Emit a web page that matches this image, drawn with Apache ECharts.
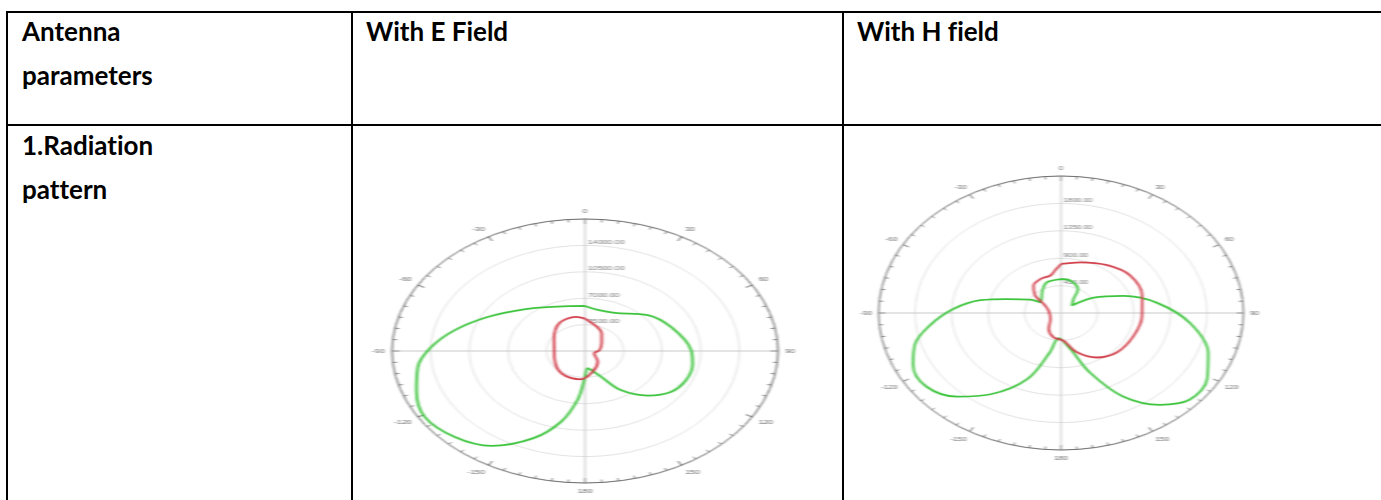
<!DOCTYPE html>
<html>
<head>
<meta charset="utf-8">
<script src="https://cdn.jsdelivr.net/npm/echarts@6/dist/echarts.min.js"></script>
<style>
  html, body { margin: 0; padding: 0; background: #fff; }
  body { width: 1381px; height: 500px; overflow: hidden; position: relative;
         font-family: Lato, "Open Sans", sans-serif; }
  .rule { position: absolute; background: #000; }
  .cell { position: absolute; font-weight: 700; font-size: 26px; line-height: 44px;
          color: #000; white-space: nowrap; font-variant-ligatures: none; }
  .plot { position: absolute; filter: blur(0.7px); }
</style>
</head>
<body>
  <!-- table frame -->
  <div class="rule" style="left:6px;top:11px;width:1375px;height:2px"></div>
  <div class="rule" style="left:6px;top:124px;width:1375px;height:2px"></div>
  <div class="rule" style="left:6px;top:11px;width:2px;height:489px"></div>
  <div class="rule" style="left:351px;top:11px;width:2px;height:489px"></div>
  <div class="rule" style="left:842px;top:11px;width:2px;height:489px"></div>

  <!-- table text -->
  <div class="cell" style="left:22px;top:9px">Antenna<br>parameters</div>
  <div class="cell" style="left:366px;top:9px">With E Field</div>
  <div class="cell" style="left:857px;top:9px">With H field</div>
  <div class="cell" style="left:22px;top:123px">1.Radiation<br>pattern</div>

  <!-- radiation pattern plots -->
  <div id="eplot" class="plot" style="left:420px;top:186px;width:330px;height:330px;transform-origin:165px 165px;transform:scaleX(1.462)"></div>
  <div id="hplot" class="plot" style="left:891px;top:143px;width:340px;height:340px;transform-origin:170px 170px;transform:scaleX(1.332)"></div>

<script>
// ---- E-field cut: angle (deg, clockwise from 0 at top) and field magnitude ----
const eGreenAngle = [0, 12, 28, 50, 68, 89, 100, 113, 125, 136, 148, 157, 168, 174, 181, 186, 193, 202, 214, 226, 239, 251, 262, 272, 283, 297, 315, 337, 360];
const eGreenR     = [5970, 5565, 5720, 7420, 8435, 9610, 9905, 9940, 9485, 8210, 6110, 3690, 2570, 2280, 3850, 6530, 9610, 12460, 15170, 16415, 16960, 16170, 15310, 13980, 12160, 9920, 7820, 6390, 5970];
const eRedAngle   = [0, 20, 33, 56, 85, 110, 141, 166, 186, 215, 250, 275, 300, 328, 350, 360];
const eRedR       = [4290, 3330, 2780, 1820, 1310, 890, 1820, 2840, 3780, 3675, 2940, 2800, 3240, 4375, 4585, 4290];
const eRadiusMax  = 17500;
const eRadiusStep = 3500;

// ---- H-field cut ----
const hGreenAngle = [0, 12, 28, 34, 48, 58, 70, 82, 96, 110, 121, 132, 141, 151, 160, 169, 184, 192, 201, 213, 223, 234, 245, 254, 263, 273, 282, 289, 300, 305, 328, 341, 360];
const hGreenR     = [558, 545, 443, 277, 182, 477, 819, 1197, 1602, 1931, 2102, 2131, 1940, 1562, 1040, 603, 416, 659, 1163, 1591, 1877, 2054, 2012, 1874, 1625, 1325, 1015, 704, 437, 308, 434, 533, 558];
const hRedAngle   = [0, 16, 36, 54, 74, 93, 113, 133, 149, 163, 176, 193, 210, 233, 284, 305, 312, 323, 336, 348, 355, 360];
const hRedR       = [806, 866, 970, 1051, 1040, 999, 970, 945, 853, 675, 457, 410, 304, 164, 158, 261, 428, 563, 614, 630, 720, 806];
const hRadiusMax  = 2250;
const hRadiusStep = 450;

// angle tick labels: 0..180 on the right, negative on the left
const angleLabel = v => (v === 360 ? '' : String(v > 180 ? v - 360 : v));

function pairs(angles, radii) {
  return angles.map((a, i) => [radii[i], a]);
}

function patternOption(radius, rMax, rStep, green, red) {
  const shared = { center: ['50%', '50%'], radius: radius };
  return {
    animation: false,
    polar: [shared, shared],
    angleAxis: [
      {
        polarIndex: 0, type: 'value', min: 0, max: 360, interval: 30,
        startAngle: 90, clockwise: true,
        axisLine: { lineStyle: { color: '#6f6f6f', width: 1 } },
        axisTick: { show: true, inside: true, length: 5, lineStyle: { color: '#6f6f6f' } },
        minorTick: { show: true, splitNumber: 6, length: 3, lineStyle: { color: '#8a8a8a' } },
        axisLabel: { color: '#666', fontSize: 6, margin: 5, formatter: angleLabel },
        splitLine: { show: false }
      },
      {
        polarIndex: 1, type: 'value', min: 0, max: 360, interval: 90,
        startAngle: 90, clockwise: true,
        axisLine: { show: false }, axisTick: { show: false }, axisLabel: { show: false },
        splitLine: { show: true, lineStyle: { color: '#c9c9c9', width: 1 } }
      }
    ],
    radiusAxis: [
      {
        polarIndex: 0, type: 'value', min: 0, max: rMax, interval: rStep,
        axisLine: { show: false }, axisTick: { show: false },
        axisLabel: {
          color: '#777', fontSize: 6, margin: -2, align: 'left', verticalAlign: 'bottom',
          formatter: v => (v > 0 && v < rMax ? v.toFixed(2) : '')
        },
        splitLine: { show: true, lineStyle: { color: '#e2e2e2', width: 1 } }
      },
      {
        polarIndex: 1, type: 'value', min: 0, max: rMax,
        axisLine: { show: false }, axisTick: { show: false }, axisLabel: { show: false },
        splitLine: { show: false }
      }
    ],
    series: [
      {
        type: 'line', coordinateSystem: 'polar', polarIndex: 0,
        data: green, smooth: 0.35, showSymbol: false,
        lineStyle: { color: '#3cc43c', width: 1.8 }
      },
      {
        type: 'line', coordinateSystem: 'polar', polarIndex: 0,
        data: red, smooth: 0.35, showSymbol: false,
        lineStyle: { color: '#d2404c', width: 1.8 }
      }
    ]
  };
}

const eChart = echarts.init(document.getElementById('eplot'), null, { renderer: 'canvas' });
eChart.setOption(patternOption(132, eRadiusMax, eRadiusStep,
  pairs(eGreenAngle, eGreenR), pairs(eRedAngle, eRedR)));

const hChart = echarts.init(document.getElementById('hplot'), null, { renderer: 'canvas' });
hChart.setOption(patternOption(137, hRadiusMax, hRadiusStep,
  pairs(hGreenAngle, hGreenR), pairs(hRedAngle, hRedR)));
</script>
</body>
</html>
